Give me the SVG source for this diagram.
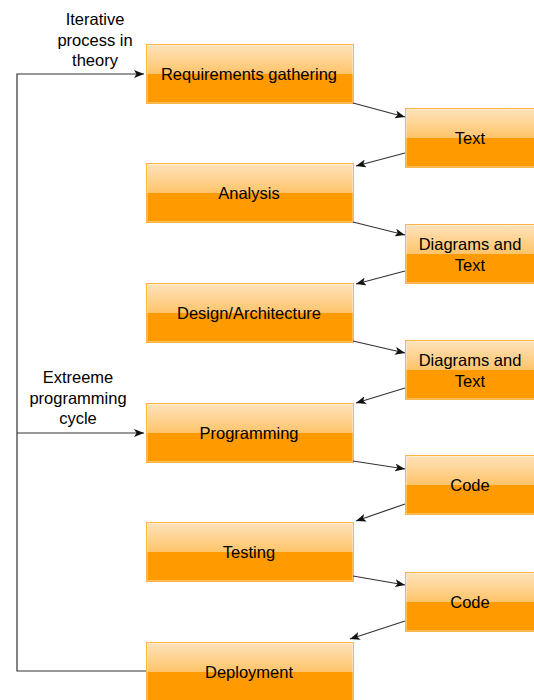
<svg xmlns="http://www.w3.org/2000/svg" width="534" height="700" viewBox="0 0 534 700">
  <defs>
    <linearGradient id="gloss" x1="0" y1="0" x2="0" y2="1">
      <stop offset="0" stop-color="#fee3bd"/>
      <stop offset="1" stop-color="#ffc46a"/>
    </linearGradient>
    <marker id="arrow" viewBox="0 0 10 8" refX="10" refY="4" markerWidth="10" markerHeight="8" markerUnits="userSpaceOnUse" orient="auto">
      <path d="M0,0 L10,4 L0,8 L2.5,4 Z" fill="#111"/>
    </marker>
    <!-- one box: lower solid half, glossy upper half, border -->
    <g id="box-left">
      <rect x="0" y="0" width="208" height="60" fill="#ff9a00"/>
      <rect x="0" y="0" width="208" height="30" fill="url(#gloss)"/>
      <rect x="0.5" y="0.5" width="207" height="59" fill="none" stroke="#ffb544"/>
      <rect x="1.5" y="1.5" width="205" height="57" fill="none" stroke="#ffffff" stroke-opacity="0.35"/>
    </g>
    <g id="box-right">
      <rect x="0" y="0" width="132" height="60" fill="#ff9a00"/>
      <rect x="0" y="0" width="132" height="30" fill="url(#gloss)"/>
      <rect x="0.5" y="0.5" width="131" height="59" fill="none" stroke="#ffb544"/>
      <rect x="1.5" y="1.5" width="129" height="57" fill="none" stroke="#ffffff" stroke-opacity="0.35"/>
    </g>
  </defs>
  <style>
    text { font-family: "Liberation Sans", Arial, sans-serif; font-size: 16.5px; fill: #000; text-anchor: middle; }
    .wire { fill: none; stroke: #333; stroke-width: 1.2; }
  </style>

  <rect width="534" height="700" fill="#fff"/>

  <!-- process stages -->
  <g id="requirements">
    <use href="#box-left" x="146" y="44"/>
    <text x="249" y="80">Requirements gathering</text>
  </g>
  <g id="analysis">
    <use href="#box-left" x="146" y="163"/>
    <text x="249" y="199">Analysis</text>
  </g>
  <g id="design">
    <use href="#box-left" x="146" y="283"/>
    <text x="249" y="319">Design/Architecture</text>
  </g>
  <g id="programming">
    <use href="#box-left" x="146" y="403"/>
    <text x="249" y="439">Programming</text>
  </g>
  <g id="testing">
    <use href="#box-left" x="146" y="522"/>
    <text x="249" y="558">Testing</text>
  </g>
  <g id="deployment">
    <use href="#box-left" x="146" y="642"/>
    <text x="249" y="678">Deployment</text>
  </g>

  <!-- stage outputs -->
  <g id="out-text">
    <use href="#box-right" x="405" y="108"/>
    <text x="470" y="144">Text</text>
  </g>
  <g id="out-diagrams-1">
    <use href="#box-right" x="405" y="224"/>
    <text x="470" y="250">Diagrams and</text>
    <text x="470" y="271">Text</text>
  </g>
  <g id="out-diagrams-2">
    <use href="#box-right" x="405" y="340"/>
    <text x="470" y="366">Diagrams and</text>
    <text x="470" y="387">Text</text>
  </g>
  <g id="out-code-1">
    <use href="#box-right" x="405" y="455"/>
    <text x="470" y="491">Code</text>
  </g>
  <g id="out-code-2">
    <use href="#box-right" x="405" y="572"/>
    <text x="470" y="608">Code</text>
  </g>

  <!-- loop labels -->
  <g id="label-iterative">
    <text x="95" y="25">Iterative</text>
    <text x="95" y="46">process in</text>
    <text x="95" y="66">theory</text>
  </g>
  <g id="label-extreme">
    <text x="78" y="383">Extreeme</text>
    <text x="78" y="404">programming</text>
    <text x="78" y="424">cycle</text>
  </g>

  <g id="connectors">
    <!-- feedback loop on the left -->
    <path class="wire" d="M146,671 H17 V74 H144" marker-end="url(#arrow)"/>
    <path class="wire" d="M17,433 H144" marker-end="url(#arrow)"/>
    <!-- stage to output, output to next stage -->
    <path class="wire" d="M353,103 L405,117" marker-end="url(#arrow)"/>
    <path class="wire" d="M405,153 L356,166" marker-end="url(#arrow)"/>
    <path class="wire" d="M353,222 L405,235" marker-end="url(#arrow)"/>
    <path class="wire" d="M405,271 L356,284" marker-end="url(#arrow)"/>
    <path class="wire" d="M353,341 L405,353" marker-end="url(#arrow)"/>
    <path class="wire" d="M405,388 L356,403" marker-end="url(#arrow)"/>
    <path class="wire" d="M353,461 L405,469" marker-end="url(#arrow)"/>
    <path class="wire" d="M405,504 L356,521" marker-end="url(#arrow)"/>
    <path class="wire" d="M353,576 L405,585" marker-end="url(#arrow)"/>
    <path class="wire" d="M405,621 L350,639" marker-end="url(#arrow)"/>
  </g>
</svg>
